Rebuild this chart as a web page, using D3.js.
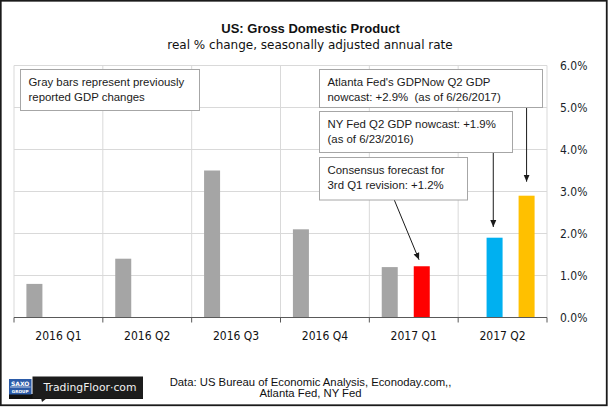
<!DOCTYPE html>
<html>
<head>
<meta charset="utf-8">
<script src="https://cdn.jsdelivr.net/npm/d3@7"></script>
<style>
  html, body { margin: 0; padding: 0; background: #fff; }
  svg { display: block; }
  .cond { font-family: "DejaVu Sans Condensed", "DejaVu Sans", sans-serif; font-stretch: condensed; }
</style>
</head>
<body>
<svg id="chart" width="608" height="407"></svg>
<script>
// ---------------- DATA ----------------
const categories = ["2016 Q1", "2016 Q2", "2016 Q3", "2016 Q4", "2017 Q1", "2017 Q2"];
const seriesNames = ["Previously reported", "NY Fed nowcast", "Consensus forecast", "Atlanta Fed GDPNow"];
const previouslyReported = [0.8, 1.4, 3.5, 2.1, 1.2, null];
const nyFedNowcast = [null, null, null, null, null, 1.9];
const consensusForecast = [null, null, null, null, 1.22, null];
const atlantaFedNowcast = [null, null, null, null, null, 2.9];
const yTickValues = [0, 1, 2, 3, 4, 5, 6];

const titleText = "US: Gross Domestic Product";
const subtitleText = "real % change, seasonally adjusted annual rate";
const sourceLines = ["Data: US Bureau of Economic Analysis, Econoday.com,,", "Atlanta Fed, NY Fed"];
const noteGray = ["Gray bars represent previously", "reported GDP changes"];
const noteAtlanta = ["Atlanta Fed's GDPNow Q2 GDP", "nowcast: +2.9%  (as of 6/26/2017)"];
const noteNY = ["NY Fed Q2 GDP nowcast: +1.9%", "(as of 6/23/2016)"];
const noteConsensus = ["Consensus forecast for", "3rd Q1 revision: +1.2%"];

// ---------------- STYLE / LAYOUT ----------------
const seriesColors = ["#A5A5A5", "#00B0F0", "#FF0000", "#FFC000"];
const seriesValues = [previouslyReported, nyFedNowcast, consensusForecast, atlantaFedNowcast];
const plot = { left: 14, right: 547, top: 65.5, bottom: 317.5 };

const svg = d3.select("#chart");

// outer frame
svg.append("rect").attr("x", 0.75).attr("y", 0.75).attr("width", 606).attr("height", 404.5)
  .attr("fill", "#fff").attr("stroke", "#1a1a1a").attr("stroke-width", 1.8);

const x = d3.scaleBand().domain(categories).range([plot.left, plot.right]).padding(0);
const xInner = d3.scaleBand().domain(seriesNames).range([0, x.bandwidth()])
  .paddingInner(0).paddingOuter(0.775);
const y = d3.scaleLinear().domain([0, 6]).range([plot.bottom, plot.top]);

// horizontal gridlines
svg.append("g").selectAll("line").data(yTickValues).join("line")
  .attr("x1", plot.left).attr("x2", plot.right)
  .attr("y1", d => y(d)).attr("y2", d => y(d))
  .attr("stroke", "#D9D9D9").attr("stroke-width", 1);

// vertical gridlines at category boundaries
const bounds = categories.map(c => x(c)).concat([plot.right]);
svg.append("g").selectAll("line").data(bounds).join("line")
  .attr("x1", d => d).attr("x2", d => d)
  .attr("y1", plot.top).attr("y2", plot.bottom)
  .attr("stroke", "#D9D9D9").attr("stroke-width", 1);

// bars
const barData = [];
seriesValues.forEach((vals, si) => {
  vals.forEach((v, ci) => {
    if (v != null) barData.push({ cat: categories[ci], series: seriesNames[si], value: v, color: seriesColors[si] });
  });
});
svg.append("g").selectAll("rect").data(barData).join("rect")
  .attr("x", d => x(d.cat) + xInner(d.series))
  .attr("width", xInner.bandwidth())
  .attr("y", d => y(d.value))
  .attr("height", d => y(0) - y(d.value))
  .attr("fill", d => d.color);

// bottom axis
const xAxisG = svg.append("g");
xAxisG.append("line").attr("x1", plot.left).attr("x2", plot.right)
  .attr("y1", plot.bottom).attr("y2", plot.bottom)
  .attr("stroke", "#595959").attr("stroke-width", 1);
xAxisG.selectAll("line.tick").data(bounds).join("line").attr("class", "tick")
  .attr("x1", d => d).attr("x2", d => d)
  .attr("y1", plot.bottom).attr("y2", plot.bottom + 5)
  .attr("stroke", "#595959").attr("stroke-width", 1);
xAxisG.selectAll("text").data(categories).join("text")
  .attr("class", "cond")
  .attr("x", d => x(d) + x.bandwidth() / 2)
  .attr("y", 339.5)
  .attr("text-anchor", "middle")
  .attr("font-size", 12)
  .attr("fill", "#111")
  .text(d => d);

// right y axis
const yAxis = d3.axisRight(y).tickValues(yTickValues).tickSize(0).tickPadding(0)
  .tickFormat(d => d3.format(".1%")(d / 100));
const yAxisG = svg.append("g").attr("transform", `translate(560,0)`).call(yAxis);
yAxisG.select(".domain").remove();
yAxisG.attr("font-family", null).attr("font-size", null);
yAxisG.selectAll("text").attr("class", "cond").attr("font-size", 12).attr("fill", "#1a1f2a")
  .attr("x", 0).attr("dy", "0.35em");

// title
svg.append("text").attr("x", 310.5).attr("y", 33).attr("text-anchor", "middle")
  .attr("font-family", "Liberation Sans, Arial, sans-serif").attr("font-weight", "bold")
  .attr("font-size", 13).attr("fill", "#111").text(titleText);
svg.append("text").attr("x", 310).attr("y", 48.5).attr("text-anchor", "middle")
  .attr("font-family", "DejaVu Sans, sans-serif")
  .attr("font-size", 12).attr("fill", "#111").text(subtitleText);

// arrow marker
svg.append("defs").append("marker").attr("id", "ah")
  .attr("markerUnits", "userSpaceOnUse").attr("markerWidth", 8).attr("markerHeight", 8)
  .attr("viewBox", "0 -4 8 8").attr("refX", 7).attr("refY", 0).attr("orient", "auto")
  .append("path").attr("d", "M0,-3L7,0L0,3Z").attr("fill", "#1a1a1a");

function barTop(cat, series, value) {
  return [x(cat) + xInner(series) + xInner.bandwidth() / 2, y(value)];
}
const tipAtl = barTop("2017 Q2", "Atlanta Fed GDPNow", atlantaFedNowcast[5]);
const tipNY = barTop("2017 Q2", "NY Fed nowcast", nyFedNowcast[5]);
const tipCon = barTop("2017 Q1", "Consensus forecast", consensusForecast[4]);

const arrows = [
  { from: [tipAtl[0], 107.3], to: [tipAtl[0], tipAtl[1] - 14] },
  { from: [tipNY[0] - 1.3, 152.7], to: [tipNY[0] - 1.3, tipNY[1] - 10.7] },
  { from: [394.3, 200], to: [tipCon[0] - 2.7, tipCon[1] - 6.5] }
];
svg.append("g").selectAll("line").data(arrows).join("line")
  .attr("x1", d => d.from[0]).attr("y1", d => d.from[1])
  .attr("x2", d => d.to[0]).attr("y2", d => d.to[1])
  .attr("stroke", "#1a1a1a").attr("stroke-width", 1).attr("marker-end", "url(#ah)");

// annotation boxes
const boxes = [
  { x: 20.5, y: 69.5, w: 179, h: 41, lines: noteGray },
  { x: 319.5, y: 69.5, w: 223, h: 38, lines: noteAtlanta },
  { x: 319.5, y: 111.5, w: 193, h: 41, lines: noteNY },
  { x: 319.5, y: 157.5, w: 148, h: 42.5, lines: noteConsensus }
];
const bg = svg.append("g").selectAll("g").data(boxes).join("g");
bg.append("rect").attr("x", d => d.x).attr("y", d => d.y).attr("width", d => d.w).attr("height", d => d.h)
  .attr("fill", "#fff").attr("stroke", "#A6A6A6").attr("stroke-width", 1);
bg.each(function(d) {
  const g = d3.select(this);
  d.lines.forEach((t, i) => {
    g.append("text").attr("x", d.x + 8).attr("y", d.y + 16 + i * 15.5)
      .attr("font-family", "Liberation Sans, Arial, sans-serif").attr("font-size", 11.4)
      .attr("fill", "#1a1a1a").style("white-space", "pre").text(t);
  });
});

// source text
svg.append("g").selectAll("text").data(sourceLines).join("text")
  .attr("x", 310.5).attr("y", (d, i) => 385.5 + i * 11.6)
  .attr("text-anchor", "middle")
  .attr("font-family", "Liberation Sans, Arial, sans-serif").attr("font-size", 11.3)
  .attr("fill", "#111").text(d => d);

// logo
const logo = svg.append("g");
logo.append("rect").attr("x", 9).attr("y", 394).attr("width", 134).attr("height", 5).attr("fill", "#111");
logo.append("rect").attr("x", 32.5).attr("y", 376.5).attr("width", 110.5).attr("height", 22).attr("fill", "#1c1c1c");
logo.append("path").attr("d", "M41,398 L42,402 L47,398 Z").attr("fill", "#1c1c1c");
logo.append("rect").attr("x", 9).attr("y", 379).attr("width", 22.5).attr("height", 15.5).attr("fill", "#2B5BA8");
logo.append("line").attr("x1", 10).attr("x2", 30.5).attr("y1", 387).attr("y2", 387).attr("stroke", "#fff").attr("stroke-width", 0.7);
logo.append("text").attr("x", 20.2).attr("y", 385.6).attr("text-anchor", "middle")
  .attr("font-family", "DejaVu Sans, sans-serif").attr("font-weight", "bold").attr("font-size", 6)
  .attr("fill", "#fff").text("SAXO");
logo.append("text").attr("x", 20.2).attr("y", 392.6).attr("text-anchor", "middle")
  .attr("font-family", "DejaVu Sans, sans-serif").attr("font-weight", "bold").attr("font-size", 4.2)
  .attr("fill", "#fff").text("GROUP");
logo.append("text").attr("x", 90).attr("y", 391).attr("text-anchor", "middle")
  .attr("font-family", "DejaVu Sans, sans-serif").attr("font-size", 10.8)
  .attr("fill", "#f2f2f2").text("TradingFloor·com");
</script>
</body>
</html>
